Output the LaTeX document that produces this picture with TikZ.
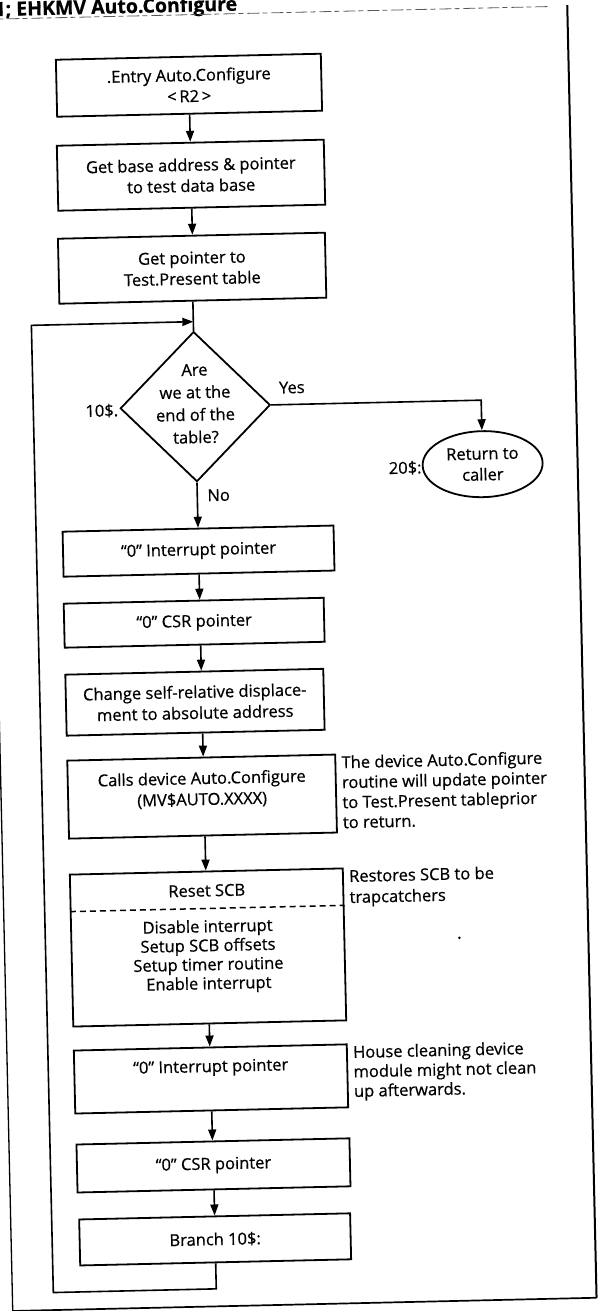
\documentclass[tikz,border=0pt]{standalone}
\usepackage{fontspec}
\setmainfont[FakeBold=0.6]{Open Sans}
\usetikzlibrary{arrows.meta,shapes.geometric}
\begin{document}
\begin{tikzpicture}[x=1pt,y=-1pt,
  every node/.style={font=\fontsize{16.5}{21}\selectfont},
  box/.style={draw, line width=1.8pt, inner sep=0pt, align=center},
  txt/.style={inner sep=0pt, align=center},
  note/.style={inner sep=0pt, align=left, anchor=north west,
    font=\fontsize{16.5}{20}\selectfont},
  flow/.style={line width=1.6pt, -{Triangle[length=11pt,width=8pt]}},
  wire/.style={line width=1.6pt},
]
\useasboundingbox (0,0) rectangle (600,1311);
\fill[white] (0,0) rectangle (600,1311);
\begin{scope}[rotate=1.3, transform shape]
  % page frame and heading
  \node[anchor=base west, inner sep=0pt,
        font=\bfseries\fontsize{19.5}{20}\selectfont] (title) at (-6,16)
        {1; EHKMV Auto.Configure};
  \draw[line width=0.8pt, black!65, dash pattern=on 12pt off 3pt on 5pt off 4pt]
        (-17,19) -- (548,19);
  \draw[line width=2pt] (567,18) -- (567,1311);
  \draw[line width=1.7pt] (-17,1311) -- (567,1311);
  \draw[line width=1.3pt] (-17,18) -- (-17,1311);

  % upper part of the routine
  \node[box, minimum width=265pt, minimum height=57pt] (entry) at (187,89.5)
        {.Entry Auto.Configure\\<\,R2\,>};
  \node[box, minimum width=267pt, minimum height=65pt] (base) at (187,179.5)
        {Get base address \& pointer\\to test data base};
  \node[box, minimum width=267pt, minimum height=65pt] (tptr) at (186,272.5)
        {Get pointer to\\Test.Present table};

  % decision
  \node[draw, diamond, line width=1.8pt, inner sep=0pt,
        minimum width=150pt, minimum height=150pt] (dec) at (186,411) {};
  \node[txt, font=\fontsize{16.5}{22.5}\selectfont] (decT) at (186,408)
        {Are\\we at the\\end of the\\table?};
  \node[txt, anchor=east] (l10) at (109,413) {10\$.};
  \node[txt] (yes) at (283,394) {Yes};
  \node[txt, anchor=west] (no) at (196,500) {No};
  \node[draw, ellipse, line width=1.8pt, inner sep=0pt, align=center,
        minimum width=120pt, minimum height=66pt] (ret) at (472,475)
        {Return to\\caller};
  \node[txt, anchor=east] (l20) at (411,477) {20\$:};

  % loop body
  \node[box, minimum width=271pt, minimum height=45pt] (intA) at (186,555.5)
        {``0'' Interrupt pointer};
  \node[box, minimum width=260pt, minimum height=44pt] (csrA) at (180,627)
        {``0'' CSR pointer};
  \node[box, minimum width=258pt, minimum height=61pt] (chg) at (179,706.5)
        {Change self-relative displace-\\ment to absolute address};
  \node[box, minimum width=268pt, minimum height=78pt] (calls) at (184,801) {};
  \node[txt] (callsT) at (184,794)
        {Calls device Auto.Configure\\(MV\$AUTO.XXXX)};
  \node[note] (n1) at (324,763)
        {The device Auto.Configure\\routine will update pointer\\to Test.Present tableprior\\to return.};

  \node[box, minimum width=273pt, minimum height=152pt] (scb) at (186.5,952) {};
  \node[txt] (scbT) at (186.5,895) {Reset SCB};
  \coordinate (scbCut) at (0,913);
  \draw[line width=1.5pt, dash pattern=on 6pt off 4pt]
        (scb.west |- scbCut) -- (scb.east |- scbCut);
  \node[txt, font=\fontsize{16.5}{19}\selectfont] (scbL) at (186.5,961)
        {Disable interrupt\\Setup SCB offsets\\Setup timer routine\\Enable interrupt};
  \node[note, font=\fontsize{16.5}{21}\selectfont] (n2) at (329,877)
        {Restores SCB to be\\trapcatchers};
  \fill (438,948) circle (1.4pt);

  \node[box, minimum width=273pt, minimum height=63pt] (intB) at (186.5,1083.5) {};
  \node[txt] (intBT) at (186.5,1072.5) {``0'' Interrupt pointer};
  \node[note, font=\fontsize{16.5}{19.5}\selectfont] (n3) at (329,1053)
        {House cleaning device\\module might not clean\\up afterwards.};
  \node[box, minimum width=273pt, minimum height=48pt] (csrB) at (187,1170)
        {``0'' CSR pointer};
  \node[box, minimum width=271pt, minimum height=46pt] (br) at (187,1244)
        {Branch 10\$:};

  % connectors
  \coordinate (join) at (186,326);
  \coordinate (loopB) at (24,1293.5);
  \coordinate (loopT) at (24,326);
  \draw[flow] (entry.south) -- (entry.south |- base.north);
  \draw[flow] (base.south) -- (base.south |- tptr.north);
  \draw[wire] (tptr.south) -- (dec.north);
  \draw[flow] (dec.south) -- (dec.south |- intA.north);
  \draw[flow] (dec.east) -| (ret.north);
  \draw[flow] (intA.south) -- (intA.south |- csrA.north);
  \draw[flow] (intA.south |- csrA.south) -- (intA.south |- chg.north);
  \draw[flow] (intA.south |- chg.south) -- (intA.south |- calls.north);
  \draw[flow] (intA.south |- calls.south) -- (intA.south |- scb.north);
  \draw[flow] (intA.south |- scb.south) -- (intA.south |- intB.north);
  \draw[flow] (intB.south) -- (intB.south |- csrB.north);
  \draw[flow] (csrB.south) -- (csrB.south |- br.north);
  \draw[flow] (br.south) |- (loopB) -- (loopT) -- (join);
\end{scope}
\end{tikzpicture}
\end{document}
